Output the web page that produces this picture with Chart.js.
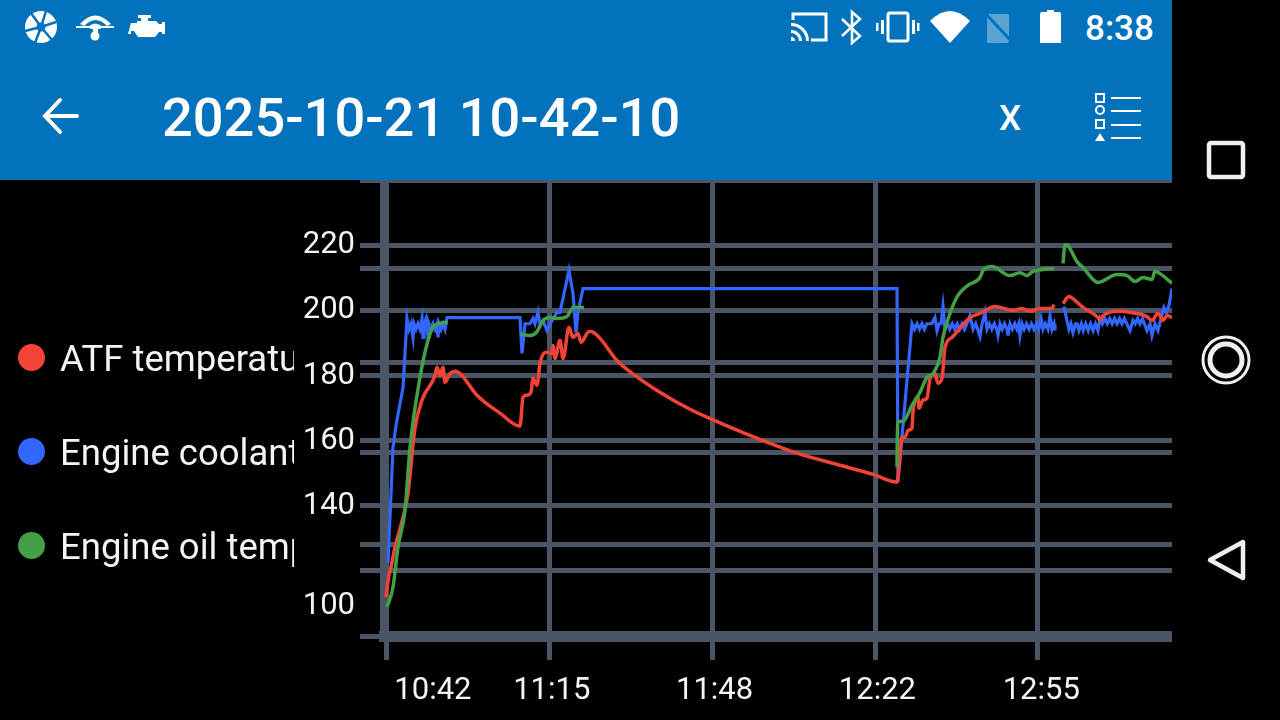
<!DOCTYPE html>
<html>
<head>
<meta charset="utf-8">
<title>2025-10-21 10-42-10</title>
<script src="https://cdn.jsdelivr.net/npm/chart.js@4"></script>
<style>
  html, body { margin: 0; padding: 0; background: #000; width: 1280px; height: 720px; overflow: hidden; font-family: Roboto, sans-serif; }
  #header { position: absolute; left: 0; top: 0; width: 1172px; height: 180px; background: #0272bc; color: #fff; z-index: 2; }
  #title { position: absolute; left: 162px; top: 89px; font-size: 54.2px; font-weight: 500; line-height: 58px; white-space: nowrap; }
  #clock { position: absolute; left: 1085px; top: 9px; font-size: 35px; font-weight: 500; line-height: 40px; }
  #xbtn { position: absolute; left: 999px; top: 98px; font-size: 35px; font-weight: 500; line-height: 42px; }
  #chartBox { position: absolute; left: 0; top: 157px; width: 1172px; height: 563px; }
  #legend { position: absolute; left: 0; top: 320px; width: 294px; height: 260px; overflow: hidden; z-index: 1; }
  .item { position: absolute; left: 0; height: 40px; width: 600px; color: #f4f4f4; font-size: 36.5px; line-height: 40px; white-space: nowrap; }
  .item i { position: absolute; left: 18px; top: 4px; width: 27px; height: 27px; border-radius: 50%; }
  .item span { position: absolute; left: 60px; top: -1px; }
  svg { position: absolute; overflow: visible; }
</style>
</head>
<body>
<div id="header">
  <svg style="left:0;top:0" width="1172" height="180" fill="#fff" stroke="none">
    <circle cx="41" cy="27" r="16"/>
    <g stroke="#0272bc" stroke-width="2.5"><path d="M41 27L31 13M41 27L56 22M41 27L52 40M41 27L35 43M41 27L25 31M41 27L46 11"/></g>
    <circle cx="41" cy="27" r="4.5" fill="#0272bc"/>
    <path d="M80 24q15-17 31 0l-4 2q-11-12-23 0z"/><path d="M88 27q7-7 15 0l-3 2h-9z"/><rect x="76" y="26" width="38" height="2"/><circle cx="95" cy="36" r="4.5"/><rect x="93" y="29" width="5" height="6"/>
    <path d="M131 23h6v-2h4v-3h-3v-3h13v3h-3v3h8l3 3h3v-2h3v12h-3v-2h-3l-4 5h-17l-4-6h-3v3h-3z"/>
    <g stroke="#fff" stroke-width="3" fill="none"><path d="M793 20v-6h33v26h-15"/></g>
    <path d="M791 37a4 4 0 0 1 4 4h-4zM791 30a11 11 0 0 1 11 11h-3a8 8 0 0 0-8-8zM791 23a18 18 0 0 1 18 18h-3a15 15 0 0 0-15-15z"/>
    <g stroke="#fff" stroke-width="2.5" fill="none"><path d="M842 19l18 17-8 7V12l8 7-18 17"/></g>
    <rect x="888" y="13" width="20" height="28" rx="2" fill="none" stroke="#fff" stroke-width="3"/>
    <rect x="881" y="20" width="3" height="14"/><rect x="876" y="23" width="2.5" height="8"/><rect x="912" y="20" width="3" height="14"/><rect x="917" y="23" width="2.5" height="8"/>
    <path d="M930 21q20-20 40 0l-20 22z"/>
    <path d="M987 14h20a2 2 0 0 1 2 2v25a2 2 0 0 1-2 2h-20z" fill-opacity=".35"/>
    <path d="M986 14l27 29" stroke="#0272bc" stroke-width="3"/>
    <path d="M1047 10h7v2h5a2 2 0 0 1 2 2v29h-21V14a2 2 0 0 1 2-2h5z"/>
    <g stroke="#fff" stroke-width="4" fill="none" stroke-linecap="round"><path d="M77 116H46M60 100L45 116l15 16"/></g>
    <g stroke="#fff" stroke-width="2" fill="none"><rect x="1096" y="94" width="8" height="8"/><circle cx="1100" cy="110" r="4"/><rect x="1096" y="120" width="8" height="8"/></g>
    <path d="M1095 141l5-8 5 8z"/>
    <rect x="1111" y="97" width="30" height="2"/><rect x="1111" y="110" width="30" height="2"/><rect x="1111" y="124" width="30" height="2"/><rect x="1111" y="137" width="30" height="2"/>
  </svg>
  <div id="title">2025-10-21 10-42-10</div>
  <div id="clock">8:38</div>
  <div id="xbtn">X</div>
</div>
<div id="chartBox"><canvas id="myChart"></canvas></div>
<div id="legend"></div>
<svg style="left:0;top:0;z-index:3" width="1280" height="720" fill="none" stroke="#f0f0f0" stroke-width="4.5">
  <rect x="1209" y="143" width="34" height="34" rx="2"/>
  <circle cx="1226" cy="360" r="23" stroke-width="3"/>
  <circle cx="1226" cy="360" r="16" stroke-width="5"/>
  <path d="M1243 542v36l-33-18z" stroke-linejoin="round"/>
</svg>
<script>
const seriesNames = ['ATF temperature', 'Engine coolant temperature', 'Engine oil temperature'];
const seriesColors = ['#f44336', '#3366ff', '#43a047'];

// minutes since 10:42, null where the log has a gap
const atfTimes = [0,0.61,1.02,1.84,3.48,4.5,5.93,7.36,10.02,10.43,11.04,11.66,12.07,13.09,14.11,15.13,18.61,23.31,27.4,28.02,28.83,29.65,30.06,30.88,31.49,32.72,33.95,34.15,34.56,35.58,36.2,37.42,38.24,39.26,39.88,40.29,41.51,41.92,43.76,47.24,50.92,55.42,62.17,66.67,75.87,84.05,92.84,99.59,104.5,104.91,105.52,106.14,106.75,107.57,107.77,108.79,109,109.82,110.63,111.25,112.27,112.88,113.7,114.32,115.75,117.38,119.43,121.47,124.54,128.22,130.06,131.7,133.74,136.2,136.61,137.6,138.45,139.67,140.9,142.54,145.6,146.01,146.63,149.69,152.15,155.62,156.65,157.87,158.9,159.71,160.74];
const atfTemps = [112,118.7,121.2,127.3,136.5,143.9,163.9,172.5,180.1,182.6,180.1,182.6,178,180.7,181.4,180.7,174,168.5,164.5,173.4,174,174.9,179.2,177.1,183.8,187.2,186.9,189.3,185.3,190.9,185.3,194.9,191.8,193,190.3,190.9,193.6,193.6,191.5,184.7,180.1,175.5,169.7,166.6,160.8,156.2,152.5,149.7,147.3,151.9,161.1,161.1,163.2,163.9,168.8,173.4,170,172.5,173.1,179.2,180.7,177.7,179.2,188.7,191.8,194.6,197.9,199.2,201.3,200.1,200.7,199.8,200.7,200.7,201.9,null,202.2,204.4,203.2,201,197.9,197,198.5,199.8,199.5,198.2,197,199.2,197,198.5,197.9];

const coolantTimes = [0.41,1.43,2.05,3.48,4.29,4.7,5.11,5.52,5.73,6.13,6.54,6.95,7.36,7.57,7.77,8.18,8.59,8.79,9.2,9.61,10.02,10.43,10.63,10.84,11.25,11.66,12.07,12.47,27.4,27.81,28.43,29.45,30.06,30.47,31.08,31.49,32.11,32.92,33.95,34.97,35.58,37.42,38.24,38.85,39.26,40.29,104.5,104.7,107.57,108.1,108.6,109.1,109.6,110.1,110.6,111.1,111.6,112.27,112.68,113.09,113.5,113.91,114.32,114.8,115.3,115.8,116.3,116.8,117.3,117.8,118.3,118.8,119.43,120.05,120.6,121,121.47,121.9,122.5,122.91,123.4,123.9,124.4,124.9,125.15,125.56,126,126.5,127,127.2,127.61,128.1,128.6,129.04,129.4,129.65,130.06,130.5,131,131.5,132,132.5,133,133.5,133.95,134.36,134.8,135.38,135.79,136.2,136.61,136.81,137.6,138.65,139.26,139.67,140.08,140.49,141,141.31,141.72,142.2,142.6,143.1,143.6,144.1,144.6,145.1,145.6,146.01,146.5,147,147.5,148,148.5,149,149.5,150,150.5,151,151.5,152.15,152.76,153.2,153.7,154.2,154.7,155.1,155.62,156.24,156.65,157.26,157.87,158.49,159.1,159.6,160.12,160.74];
const coolantTemps = [122.4,158,164.8,176.4,197.6,194.3,196,191.8,196,194.3,196,194.3,197.6,191.8,196,197.6,191.8,196,194.3,196,194.3,196,191.8,196,194.3,196,194.3,197.9,197.9,186.9,196,196,197.6,196,199.5,196,197,193.9,197,199.5,199.5,212.4,205.3,193.3,199.5,206.8,206.8,147.3,196,194.3,196,194.3,196,194.3,196,196,196,197.9,193.9,196,196,201.3,194.3,196,194.3,196,194.3,196,194.3,196,194.3,196,198.5,194.3,196,194.3,192.1,196,199.5,194.3,196,194.3,196,194.3,192.4,196,194.3,196,194.3,192.4,196,194.3,196,194.3,196,192.4,196,194.3,196,194.3,196,194.3,196,194.3,197.6,194.3,196,194.3,198.5,194.3,196,193.9,null,201.3,197,194.3,196,193.3,196,196,193.9,196,193.9,196,193.9,196,193.9,196,193.9,197.6,196,197.6,196,197.6,196,197.6,196,197.6,196,197.6,196,193.9,197,196,197.6,196,197.6,196,193.9,196,192.4,196,193.9,197.6,201,199.5,201.6,206.8];

const oilTimes = [0.2,1.43,2.45,3.89,4.91,6.95,8.59,9.61,11.04,12.68,20,27.4,29.45,30.88,32.11,33.54,34.97,37.01,38.24,40.49,70,104.5,104.6,105.73,107.57,109.2,110.63,111.86,113.29,113.91,115.34,116.97,119.02,121.47,122.09,123.93,127.61,129.65,131.08,132.31,134.36,136.61,137.6,138.45,138.86,139.47,141.31,142.54,145.6,149.49,151.53,153.17,154.81,156.65,157.26,158.28,160.74];
const oilTemps = [108.9,115,127.3,138.7,158,179.5,190.9,194.9,196.1,196.4,null,192.7,192.4,193.6,197,197.9,197.6,198.2,201,201,null,151.9,165.7,166,170.9,174.9,179.5,180.7,185.7,191.8,199.2,204.7,207.8,210.2,212.4,213.6,210.8,211.7,210.8,212.1,212.7,213,null,214.5,220.3,220,215.1,213.3,208.7,211.1,210.8,209,210.2,209.6,212.1,211.4,208.4];

// the app stacks two grids on one axis and pushes the bottom label up, so 109 carries "100"
const yTickValues = [100,109,120,128.2,140,156.5,160,180,184.2,200,213,220,240];
const yTickLabels = ['','100','','','140','','160','180','','200','','220',''];
const hiddenYTicks = [109];

// grid lines and labels sit on separate ticks, labels are nudged right of their lines
const xTickValues = [0,33.5,66.67,100.1,133.33,9.6,33.9,67.2,100.5,134];
const xTickLabels = ['','','','','','10:42','11:15','11:48','12:22','12:55'];
const hiddenXTicks = [9.6,33.9,67.2,100.5,134];

const gridColor = '#4a5566';

function toPoints(times, temps) {
    return times.map((t, i) => ({ x: t, y: temps[i] }));
}

function makeDataset(index, times, temps, width, mode, drawOrder) {
    return {
        label: seriesNames[index],
        data: toPoints(times, temps),
        borderColor: seriesColors[index],
        backgroundColor: seriesColors[index],
        borderWidth: width,
        pointRadius: 0,
        cubicInterpolationMode: mode,
        spanGaps: false,
        order: drawOrder
    };
}

const config = {
    type: 'line',
    data: {
        datasets: [
            makeDataset(0, atfTimes, atfTemps, 3.5, 'monotone', 1),
            makeDataset(1, coolantTimes, coolantTemps, 3.2, 'default', 2),
            makeDataset(2, oilTimes, oilTemps, 3.5, 'monotone', 0)
        ]
    },
    options: {
        responsive: false,
        animation: false,
        events: [],
        layout: { padding: 0 },
        plugins: { legend: { display: false }, tooltip: { enabled: false } },
        scales: {
            x: {
                type: 'linear',
                min: -0.41,
                max: 160.74,
                afterBuildTicks: scale => { scale.ticks = xTickValues.map(v => ({ value: v })); },
                afterFit: scale => { scale.height = 84; },
                border: { width: 11, color: gridColor },
                grid: {
                    lineWidth: 5,
                    tickLength: 24,
                    color: ctx => hiddenXTicks.includes(ctx.tick.value) ? 'transparent' : gridColor,
                    tickColor: ctx => hiddenXTicks.includes(ctx.tick.value) ? 'transparent' : gridColor
                },
                ticks: {
                    autoSkip: false,
                    maxRotation: 0,
                    padding: 13,
                    color: '#f4f4f4',
                    font: { family: 'Roboto', size: 31 },
                    callback: (v, i) => xTickLabels[i]
                }
            },
            y: {
                min: 100,
                max: 240,
                afterBuildTicks: scale => { scale.ticks = yTickValues.map(v => ({ value: v })); },
                afterFit: scale => { scale.width = 384; },
                border: { width: 8, color: gridColor },
                grid: {
                    lineWidth: 5,
                    tickLength: 24,
                    color: ctx => hiddenYTicks.includes(ctx.tick.value) ? 'transparent' : gridColor,
                    tickColor: ctx => hiddenYTicks.includes(ctx.tick.value) ? 'transparent' : gridColor
                },
                ticks: {
                    autoSkip: false,
                    padding: 5,
                    color: '#f4f4f4',
                    font: { family: 'Roboto', size: 31 },
                    callback: (v, i) => yTickLabels[i]
                }
            }
        }
    }
};

const canvas = document.getElementById('myChart');
canvas.width = 1172;
canvas.height = 563;
const myChart = new Chart(canvas, config);

const legendBox = document.getElementById('legend');
const legendTops = [20, 114, 208];
myChart.data.datasets.forEach((ds, i) => {
    const item = document.createElement('div');
    item.className = 'item';
    item.style.top = legendTops[i] + 'px';
    const dot = document.createElement('i');
    dot.style.background = ds.borderColor;
    const text = document.createElement('span');
    text.textContent = ds.label;
    item.appendChild(dot);
    item.appendChild(text);
    legendBox.appendChild(item);
});
</script>
</body>
</html>
